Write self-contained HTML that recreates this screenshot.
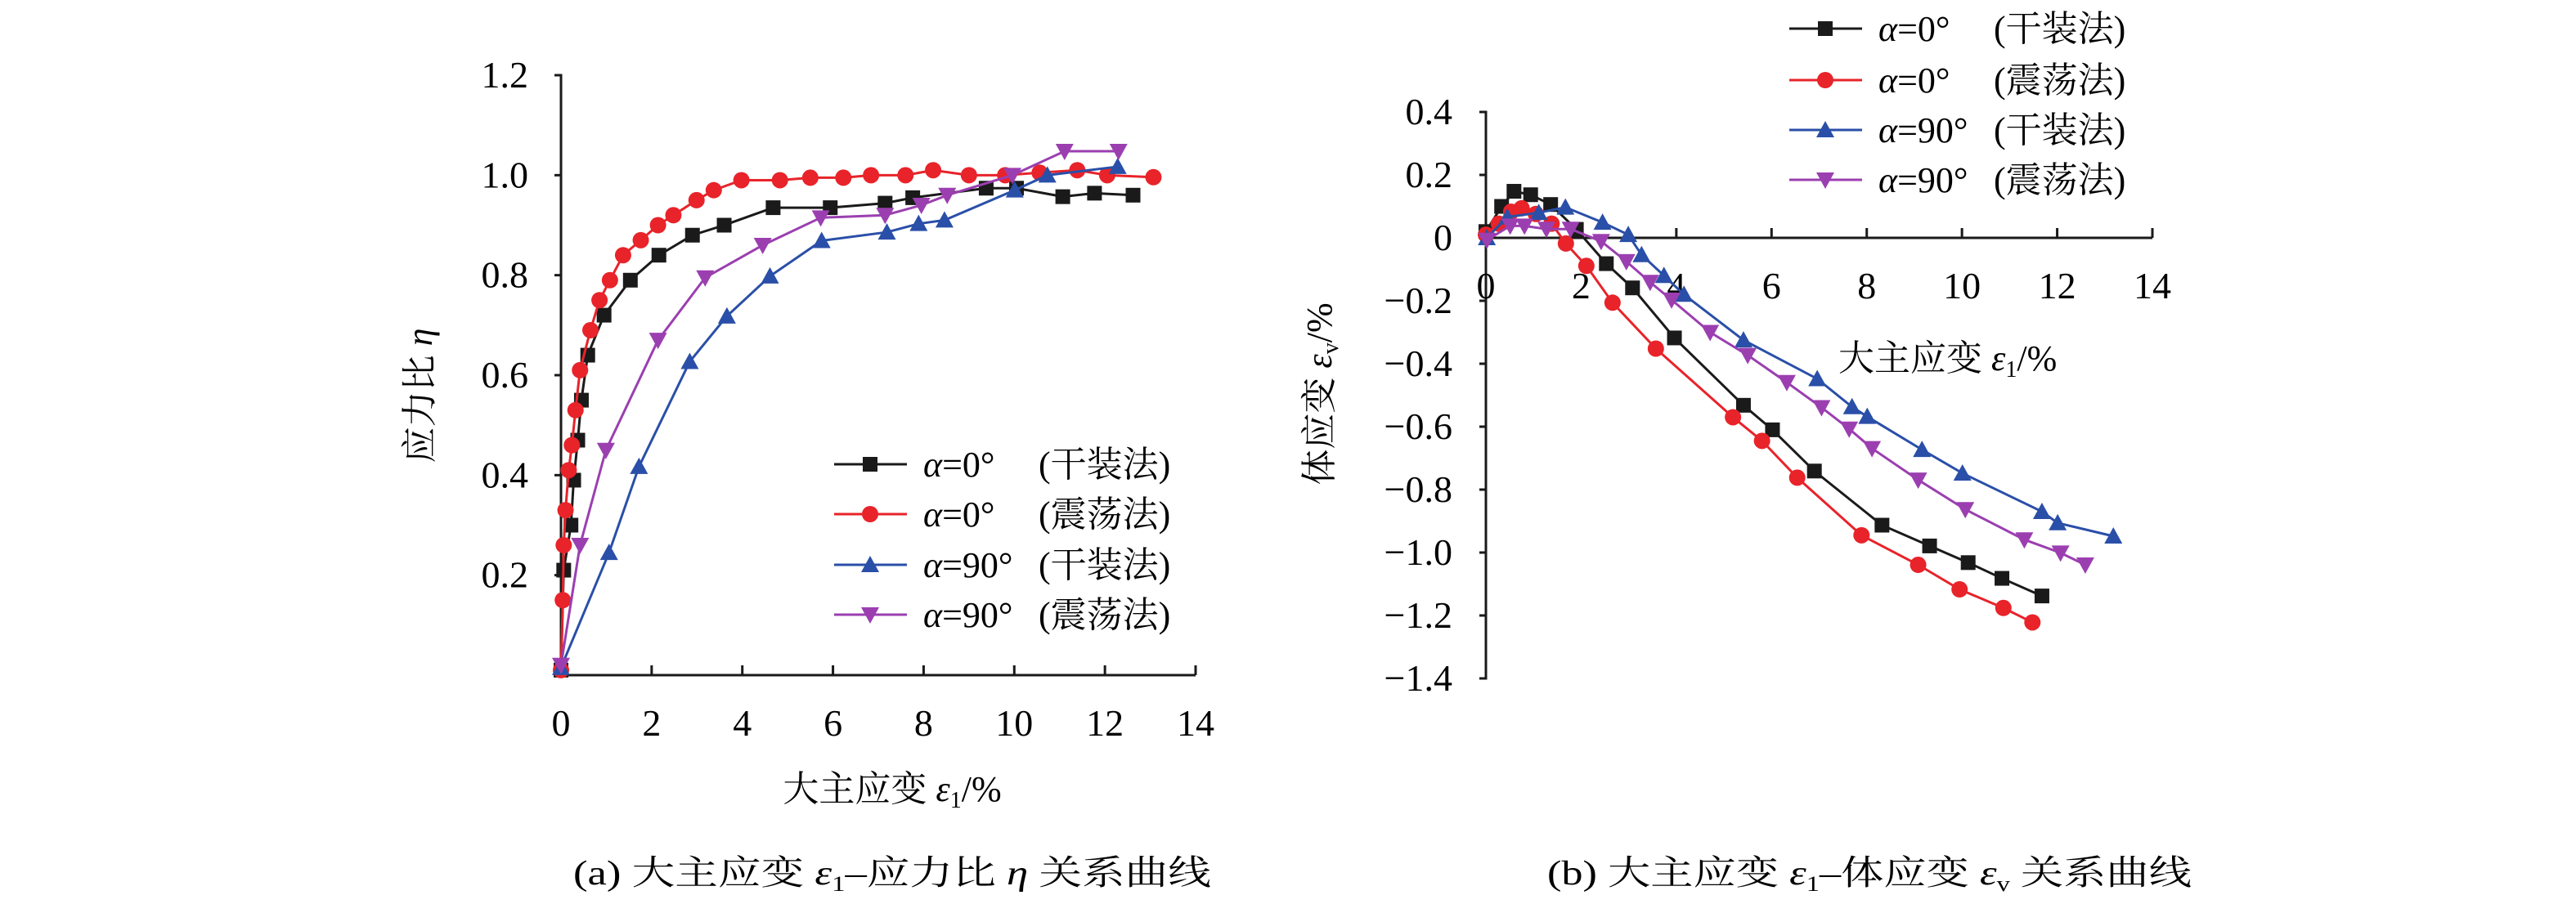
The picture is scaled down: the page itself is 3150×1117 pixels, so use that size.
<!DOCTYPE html>
<html><head><meta charset="utf-8"><style>
html,body{margin:0;padding:0;background:#fff;}
svg, svg text{font-family:"Liberation Serif","Noto Serif CJK SC","Noto Sans CJK SC",serif !important;}
</style></head><body>
<svg id="fig" width="3150" height="1112" viewBox="0 0 3150 1112" xmlns="http://www.w3.org/2000/svg" font-family="Liberation Serif, Noto Serif CJK SC, serif">
<g id="chartA"></g>
<g id="chartB"></g>
<text x="1091" y="980" font-size="44" text-anchor="middle">大主应变 <tspan font-style="italic">ε</tspan><tspan font-size="28" dy="8">1</tspan><tspan dy="-8">/%</tspan></text>
<text x="1091" y="1082" font-size="42" text-anchor="middle" textLength="780" lengthAdjust="spacingAndGlyphs">(a) 大主应变 <tspan font-style="italic">ε</tspan><tspan font-size="26" dy="8">1</tspan><tspan dy="-8">–应力比 </tspan><tspan font-style="italic">η</tspan> 关系曲线</text>
<text x="2286" y="1082" font-size="42" text-anchor="middle" textLength="788" lengthAdjust="spacingAndGlyphs">(b) 大主应变 <tspan font-style="italic">ε</tspan><tspan font-size="26" dy="8">1</tspan><tspan dy="-8">–体应变 </tspan><tspan font-style="italic">ε</tspan><tspan font-size="26" dy="8">v</tspan><tspan dy="-8"> 关系曲线</tspan></text>
<text transform="translate(528,484) rotate(-90)" font-size="44" text-anchor="middle">应力比 <tspan font-style="italic">η</tspan></text>
<text transform="translate(1628,482) rotate(-90)" font-size="44" text-anchor="middle">体应变 <tspan font-style="italic">ε</tspan><tspan font-size="28" dy="8">v</tspan><tspan dy="-8">/%</tspan></text>
<text x="2248" y="453" font-size="44">大主应变 <tspan font-style="italic">ε</tspan><tspan font-size="28" dy="8">1</tspan><tspan dy="-8">/%</tspan></text>
</svg>
<script>
// ---- Chart A data ----
const aBlackX=[0,0.06,0.22,0.28,0.37,0.45,0.59,0.95,1.53,2.16,2.90,3.60,4.68,5.94,7.15,7.76,9.38,10.05,11.07,11.77,12.62];
const aBlackY=[0.01,0.21,0.30,0.39,0.47,0.55,0.64,0.72,0.79,0.84,0.88,0.90,0.935,0.935,0.944,0.955,0.974,0.974,0.957,0.964,0.96];
const aRedX=[0,0.04,0.06,0.10,0.17,0.24,0.32,0.42,0.65,0.85,1.08,1.37,1.76,2.14,2.48,2.99,3.37,3.98,4.83,5.50,6.23,6.84,7.60,8.21,9.0,9.80,10.56,11.39,12.05,13.07];
const aRedY=[0.01,0.15,0.26,0.33,0.41,0.46,0.53,0.61,0.69,0.75,0.79,0.84,0.87,0.90,0.92,0.95,0.97,0.99,0.99,0.995,0.995,1.0,1.0,1.01,1.0,1.0,1.005,1.01,1.0,0.996];
const aBlueX=[0,1.06,1.72,2.84,3.66,4.61,5.75,7.19,7.89,8.46,10.01,10.73,12.28];
const aBlueY=[0.015,0.245,0.417,0.627,0.718,0.798,0.869,0.886,0.903,0.91,0.97,1.0,1.017];
const aPurpleX=[0,0.42,0.99,2.14,3.18,4.45,5.73,7.15,7.95,8.52,9.96,11.11,12.30];
const aPurpleY=[0.02,0.26,0.45,0.67,0.795,0.86,0.915,0.92,0.94,0.96,1.0,1.048,1.048];
const aXTicks=[0,2,4,6,8,10,12,14];
const aYTicks=[0.2,0.4,0.6,0.8,1.0,1.2];
const aYTickLabels=["0.2","0.4","0.6","0.8","1.0","1.2"];
// ---- Chart B data ----
const bBlackX=[0,0.33,0.59,0.94,1.36,1.90,2.53,3.08,3.96,5.41,6.02,6.90,8.32,9.32,10.13,10.84,11.68];
const bBlackY=[0.02,0.10,0.148,0.137,0.106,0.027,-0.082,-0.159,-0.318,-0.532,-0.61,-0.741,-0.913,-0.979,-1.032,-1.082,-1.138];
const bRedX=[0,0.27,0.53,0.75,1.05,1.38,1.68,2.11,2.66,3.57,5.19,5.80,6.54,7.89,9.08,9.95,10.87,11.48];
const bRedY=[0.01,0.045,0.083,0.094,0.076,0.045,-0.018,-0.089,-0.206,-0.352,-0.570,-0.645,-0.762,-0.945,-1.039,-1.117,-1.176,-1.222];
const bBlueX=[0.02,0.45,1.11,1.67,2.45,2.99,3.27,3.74,4.16,5.41,6.96,7.69,8.01,9.16,10.01,11.68,12.01,13.18];
const bBlueY=[0,0.066,0.08,0.097,0.049,0.01,-0.054,-0.12,-0.18,-0.325,-0.448,-0.537,-0.568,-0.673,-0.748,-0.870,-0.906,-0.948];
const bPurpleX=[0.02,0.51,0.81,1.27,1.78,2.42,2.95,3.45,3.90,4.71,5.50,6.32,7.05,7.63,8.11,9.08,10.07,11.31,12.07,12.59];
const bPurpleY=[-0.007,0.038,0.038,0.028,0.028,-0.011,-0.075,-0.141,-0.197,-0.300,-0.373,-0.459,-0.539,-0.607,-0.669,-0.769,-0.863,-0.959,-1.001,-1.039];
const bXTicks=[0,2,4,6,8,10,12,14];
const bYTicks=[0.4,0.2,0,-0.2,-0.4,-0.6,-0.8,-1.0,-1.2,-1.4];
const bYTickLabels=["0.4","0.2","0","−0.2","−0.4","−0.6","−0.8","−1.0","−1.2","−1.4"];
const seriesLabels=["=0°","=0°","=90°","=90°"];
const seriesMethods=["(干装法)","(震荡法)","(干装法)","(震荡法)"];

const NS="http://www.w3.org/2000/svg";
const COLORS=["#1a1a1a","#e8232a","#2a4fa8","#9b3fb0"];
const SHAPES=["square","circle","up","down"];
function mk(tag,attrs,parent){const e=document.createElementNS(NS,tag);for(const k in attrs)e.setAttribute(k,attrs[k]);parent.appendChild(e);return e;}
function marker(g,shape,x,y,c){
  let e;
  if(shape==="square")e=mk("rect",{x:x-9,y:y-9,width:18,height:18,fill:c},g);
  else if(shape==="circle")e=mk("circle",{cx:x,cy:y,r:10,fill:c},g);
  else if(shape==="up")e=mk("polygon",{points:`${x},${y-11} ${x-11},${y+9} ${x+11},${y+9}`,fill:c},g);
  else e=mk("polygon",{points:`${x-11},${y-9} ${x+11},${y-9} ${x},${y+11}`,fill:c},g);
  
  
}
function series(g,xs,ys,sx,sy,i){
  const sg=mk("g",{},g);
  
  
  const pts=xs.map((x,k)=>sx(x)+","+sy(ys[k])).join(" ");
  const pl=mk("polyline",{points:pts,fill:"none",stroke:COLORS[i],"stroke-width":3},sg);
  
  
  xs.forEach((x,k)=>marker(sg,SHAPES[i],sx(x),sy(ys[k]),COLORS[i]));
}
function legend(g,x0,ys){
  ys.forEach((y,i)=>{
    const lg=mk("g",{},g);
    
    
    mk("line",{x1:x0,y1:y,x2:x0+89,y2:y,stroke:COLORS[i],"stroke-width":3},lg);
    marker(lg,SHAPES[i],x0+44,y,COLORS[i]);
    const t=mk("text",{x:x0+109,y:y+15,"font-size":44},lg);
    t.innerHTML='<tspan font-style="italic">α</tspan>'+seriesLabels[i];
    const t2=mk("text",{x:x0+250,y:y+15,"font-size":44},lg);
    t2.textContent=seriesMethods[i];
  });
}
// Chart A
(function(){
  const g=document.getElementById("chartA");
  const sx=v=>686+v*(1462-686)/14, sy=v=>826-v*(826-92)/1.2;
  const ax=mk("path",{d:`M${sx(0)-8},${sy(1.2)}H${sx(0)}V${sy(0)}H${sx(14)}`,fill:"none",stroke:"#1a1a1a","stroke-width":3},g);
  
  
  aYTicks.forEach((v,i)=>{
    mk("line",{x1:sx(0)-8,y1:sy(v),x2:sx(0),y2:sy(v),stroke:"#1a1a1a","stroke-width":3},g);
    const t=mk("text",{x:646,y:sy(v)+15,"font-size":46,"text-anchor":"end"},g);
    t.textContent=aYTickLabels[i];
    
    
  });
  aXTicks.forEach(v=>{
    if(v>0)mk("line",{x1:sx(v),y1:sy(0),x2:sx(v),y2:sy(0)-12,stroke:"#1a1a1a","stroke-width":3},g);
    const t=mk("text",{x:sx(v),y:900,"font-size":46,"text-anchor":"middle"},g);
    t.textContent=String(v);
    
    
  });
  series(g,aBlackX,aBlackY,sx,sy,0);
  series(g,aRedX,aRedY,sx,sy,1);
  series(g,aBlueX,aBlueY,sx,sy,2);
  series(g,aPurpleX,aPurpleY,sx,sy,3);
  legend(g,1020,[568,629,691,752]);
})();
// Chart B
(function(){
  const g=document.getElementById("chartB");
  const sx=v=>1817+v*(2632-1817)/14, sy=v=>291-v*(291-137)/0.4;
  const ax=mk("path",{d:`M${sx(0)-8},${sy(0.4)}H${sx(0)}V${sy(-1.4)}H${sx(0)-8}M${sx(0)},${sy(0)}H${sx(14)}`,fill:"none",stroke:"#1a1a1a","stroke-width":3},g);
  
  
  bYTicks.forEach((v,i)=>{
    mk("line",{x1:sx(0)-8,y1:sy(v),x2:sx(0),y2:sy(v),stroke:"#1a1a1a","stroke-width":3},g);
    const t=mk("text",{x:1776,y:sy(v)+15,"font-size":46,"text-anchor":"end"},g);
    t.textContent=bYTickLabels[i];
    
    
  });
  bXTicks.forEach(v=>{
    if(v>0)mk("line",{x1:sx(v),y1:sy(0),x2:sx(v),y2:sy(0)-12,stroke:"#1a1a1a","stroke-width":3},g);
    const t=mk("text",{x:sx(v),y:365,"font-size":46,"text-anchor":"middle"},g);
    t.textContent=String(v);
    
    
  });
  series(g,bBlackX,bBlackY,sx,sy,0);
  series(g,bRedX,bRedY,sx,sy,1);
  series(g,bBlueX,bBlueY,sx,sy,2);
  series(g,bPurpleX,bPurpleY,sx,sy,3);
  legend(g,2188,[35,98,159,220]);
})();
</script>
</body></html>
